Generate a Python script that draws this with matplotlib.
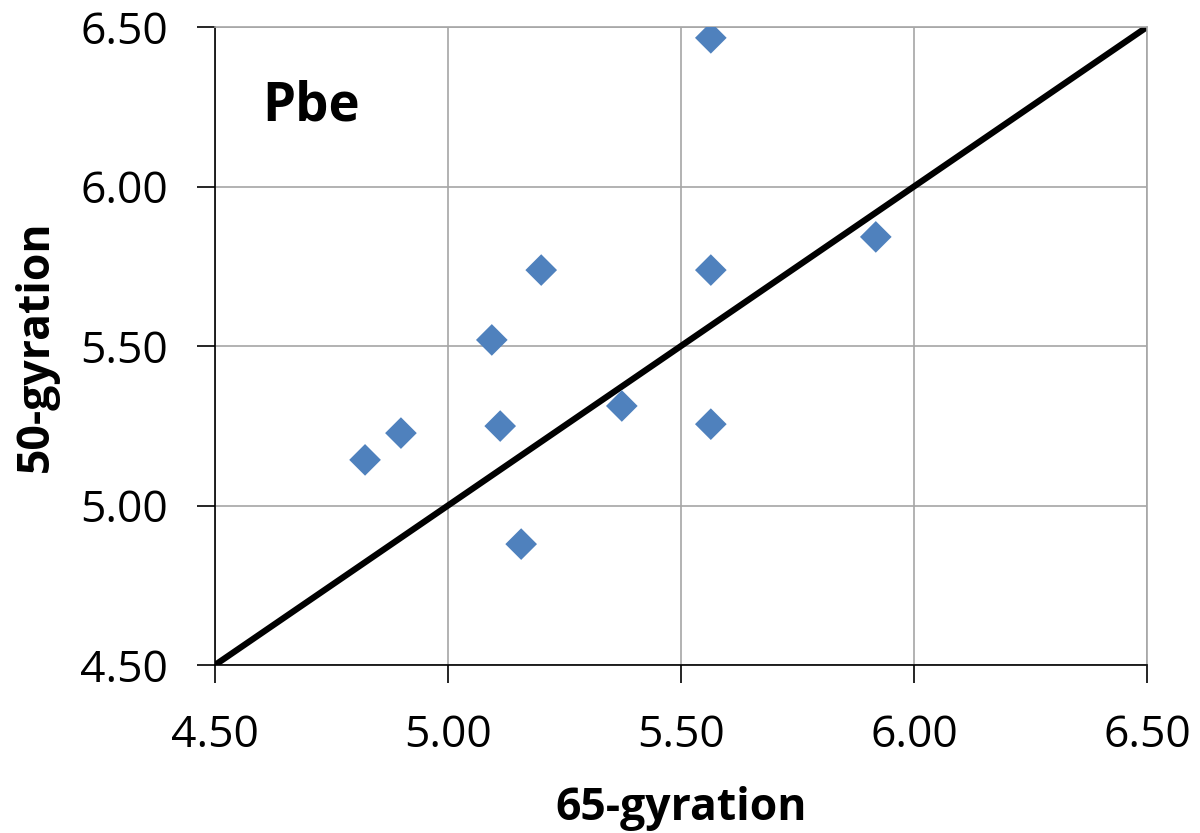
import matplotlib
matplotlib.use('Agg')
import matplotlib.pyplot as plt

# Data
x_65 = [5.564, 5.918, 5.20, 5.564, 5.094, 5.373, 5.112, 5.564, 4.899, 4.822, 5.157]
y_50 = [6.466, 5.842, 5.738, 5.738, 5.519, 5.312, 5.249, 5.255, 5.227, 5.143, 4.879]
line_xy = [4.5, 6.5]
ticks = [4.5, 5.0, 5.5, 6.0, 6.5]
tick_labels = ['4.50', '5.00', '5.50', '6.00', '6.50']

plt.rcParams['font.family'] = ['Open Sans', 'DejaVu Sans']

fig = plt.figure(figsize=(12, 8.33), dpi=100)
ax = fig.add_axes([215 / 1200, 1 - 665 / 833, (1147 - 215) / 1200, (665 - 27) / 833])

ax.plot(line_xy, line_xy, color='black', lw=4.5, zorder=2, solid_capstyle='butt')
ax.scatter(x_65, y_50, marker='D', s=260, color='#4F81BD', edgecolors='none', zorder=3)

ax.set_xlim(4.5, 6.5)
ax.set_ylim(4.5, 6.5)
ax.set_xticks(ticks)
ax.set_xticklabels(tick_labels)
ax.set_yticks(ticks)
ax.set_yticklabels(tick_labels)
ax.grid(True, color='#a6a6a6', lw=1.2, zorder=0)
ax.set_axisbelow(True)

for s in ['top', 'right']:
    ax.spines[s].set_color('#a6a6a6')
    ax.spines[s].set_linewidth(1.2)
for s in ['left', 'bottom']:
    ax.spines[s].set_color('black')
    ax.spines[s].set_linewidth(1.2)

ax.tick_params(axis='both', direction='out', length=13, width=1.2, labelsize=32)
ax.tick_params(axis='x', pad=22)
ax.tick_params(axis='y', pad=21)

ax.set_xlabel('65-gyration', fontsize=32, fontweight='bold', labelpad=20)
ax.set_ylabel('50-gyration', fontsize=32, fontweight='bold', labelpad=15)

ax.text(4.601, 6.208, 'Pbe', fontsize=38, fontweight='bold', va='baseline', ha='left')

fig.savefig('out.png', dpi=100)
